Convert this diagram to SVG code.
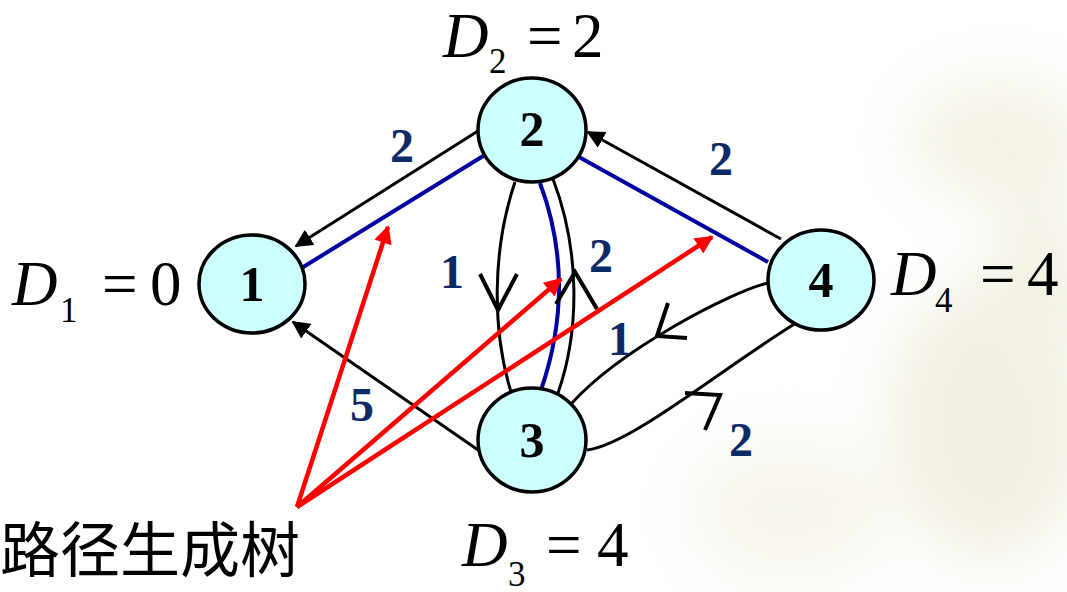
<svg xmlns="http://www.w3.org/2000/svg" width="1067" height="592" viewBox="0 0 1067 592">
<defs>
<style>
.node{fill:#CCFFFF;stroke:#000;stroke-width:3.5}
.nl{font-family:"Liberation Serif",serif;font-weight:bold;font-size:50px;fill:#000;text-anchor:middle}
.el{font-family:"Liberation Serif",serif;font-weight:bold;font-size:48px;fill:#0B2A66;text-anchor:middle}
.f{font-family:"Liberation Serif",serif;font-size:63px;fill:#000}
.fi{font-style:italic}
.sub{font-size:35px}
.blk{fill:none;stroke:#000;stroke-width:3}
.chev{fill:none;stroke:#000;stroke-width:4}
.blu{fill:none;stroke:#0000A0;stroke-width:4}
.red{fill:none;stroke:#FF0000;stroke-width:4.5}
.cn{font-family:"Liberation Serif","Noto Sans CJK SC",serif;font-size:60px;fill:#000}
</style>
<marker id="ab" viewBox="0 0 10 10" refX="9" refY="5" markerWidth="6" markerHeight="6" orient="auto" markerUnits="strokeWidth"><path d="M0,0 L10,5 L0,10 z" fill="#000"/></marker>
<marker id="ar" viewBox="0 0 10 10" refX="9" refY="5" markerWidth="5" markerHeight="4" orient="auto" markerUnits="strokeWidth"><path d="M0,0 L10,5 L0,10 z" fill="#FF0000"/></marker>
<filter id="blur" x="-50%" y="-50%" width="200%" height="200%"><feGaussianBlur stdDeviation="30"/></filter>
</defs>
<rect width="1067" height="592" fill="#FFFFFF"/>
<g id="background" filter="url(#blur)" opacity="0.45">
<ellipse cx="1000" cy="140" rx="90" ry="60" fill="#E6E2C4"/>
<ellipse cx="990" cy="420" rx="100" ry="140" fill="#E2DDBD"/>
<ellipse cx="790" cy="510" rx="100" ry="70" fill="#EEEAD6"/>
<ellipse cx="1040" cy="300" rx="50" ry="110" fill="#E4E0C2"/>
</g>
<g id="connectors">
<line class="blk" x1="478" y1="131" x2="296" y2="246" marker-end="url(#ab)"/>
<line class="blu" x1="488" y1="153" x2="300" y2="269"/>
<line class="blk" x1="781" y1="239" x2="588" y2="132" marker-end="url(#ab)"/>
<line class="blu" x1="570" y1="152" x2="768" y2="262"/>
<line class="blk" x1="481" y1="452" x2="293" y2="322" marker-end="url(#ab)"/>
<path class="blk" d="M 515 182 C 492 250, 492 330, 511 392"/>
<path class="chev" d="M 480 274 L 498 310 L 517 274"/>
<path class="blu" d="M 540 183 C 565 250, 565 320, 541 390"/>
<path class="blk" d="M 553 179 C 580 250, 580 330, 558 393"/>
<path class="chev" d="M 556 304 L 575 272 L 597 309"/>
<path class="blk" d="M 768 283 C 730 292, 620 350, 572 403"/>
<path class="chev" d="M 668 303 L 657 336 L 687 338"/>
<path class="blk" d="M 587 450 C 630 445, 720 370, 796 323"/>
<path class="chev" d="M 685 393 L 720 395 L 705 430"/>
<line class="red" x1="297" y1="507" x2="388" y2="227" marker-end="url(#ar)"/>
<line class="red" x1="297" y1="507" x2="561" y2="279" marker-end="url(#ar)"/>
<line class="red" x1="297" y1="507" x2="712" y2="237" marker-end="url(#ar)"/>
</g>
<g id="edge-labels">
<text class="el" x="402" y="162">2</text>
<text class="el" x="452" y="288">1</text>
<text class="el" x="601" y="272">2</text>
<text class="el" x="721" y="175">2</text>
<text class="el" x="620" y="355">1</text>
<text class="el" x="362" y="421">5</text>
<text class="el" x="741" y="456">2</text>
</g>
<g id="node1"><ellipse class="node" cx="252" cy="284" rx="53" ry="49"/><text class="nl" x="252" y="301">1</text></g>
<g id="node2"><ellipse class="node" cx="532" cy="130" rx="54" ry="52"/><text class="nl" x="532" y="146">2</text></g>
<g id="node3"><ellipse class="node" cx="532" cy="440" rx="54" ry="52"/><text class="nl" x="532" y="457">3</text></g>
<g id="node4"><ellipse class="node" cx="821" cy="280" rx="53" ry="50"/><text class="nl" x="821" y="297">4</text></g>
<g id="formula-D1"><text class="f fi" x="12" y="305">D</text><text class="f sub" x="60" y="322">1</text><text class="f" x="102" y="305">=</text><text class="f" x="150" y="305">0</text></g>
<g id="formula-D2"><text class="f fi" x="443" y="57">D</text><text class="f sub" x="489" y="73">2</text><text class="f" x="527" y="57">=</text><text class="f" x="572" y="57">2</text></g>
<g id="formula-D3"><text class="f fi" x="462" y="566">D</text><text class="f sub" x="508" y="586">3</text><text class="f" x="546" y="566">=</text><text class="f" x="597" y="566">4</text></g>
<g id="formula-D4"><text class="f fi" x="891" y="295">D</text><text class="f sub" x="935" y="312">4</text><text class="f" x="980" y="295">=</text><text class="f" x="1027" y="295">4</text></g>
<text class="cn" x="0" y="572">路径生成树</text>
</svg>
